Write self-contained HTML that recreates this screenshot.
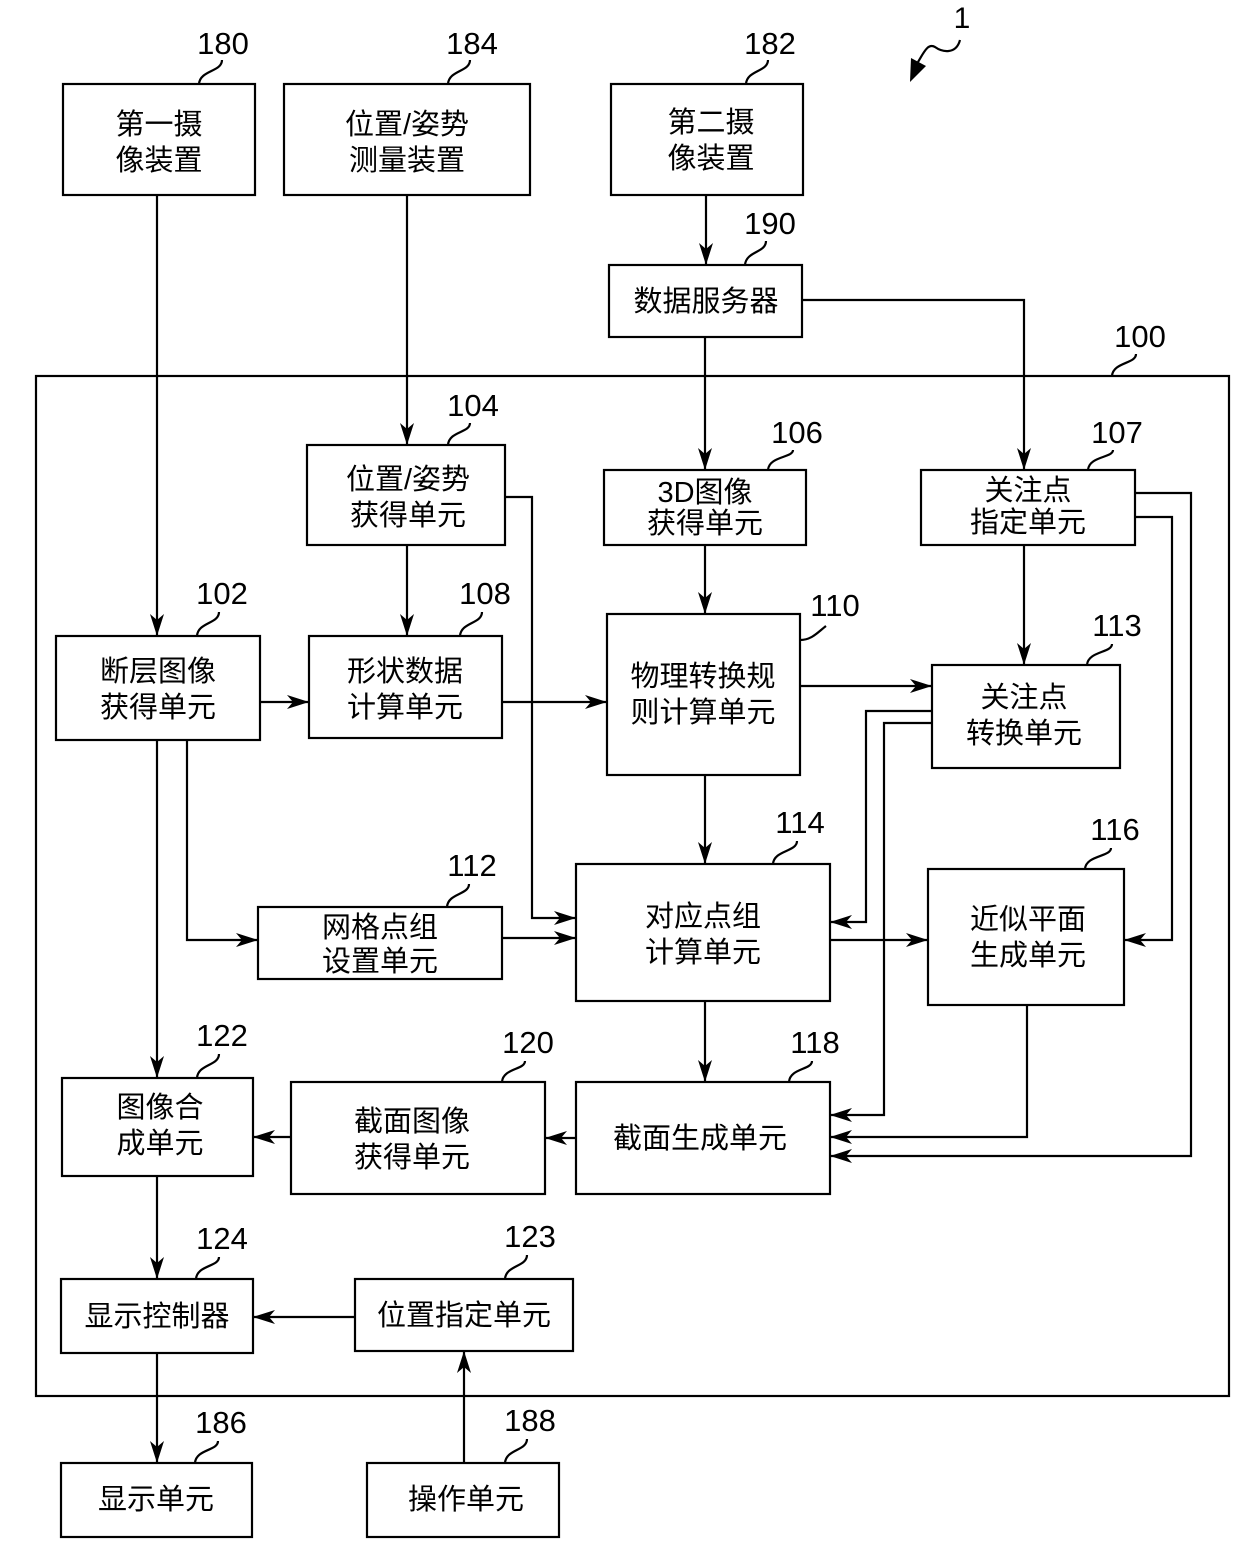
<!DOCTYPE html>
<html><head><meta charset="utf-8"><style>
html,body{margin:0;padding:0;background:#fff}
svg{display:block}
.b{fill:#fff;stroke:#000;stroke-width:2.2}
.l{fill:none;stroke:#000;stroke-width:2.2}
.t{font-family:"Liberation Sans","Noto Sans CJK SC",sans-serif;font-size:29px;fill:#000;text-anchor:middle}
.n{font-family:"Liberation Sans",sans-serif;font-size:31px;fill:#000;text-anchor:middle}
</style></head><body>
<svg width="1240" height="1546" viewBox="0 0 1240 1546" xmlns="http://www.w3.org/2000/svg">
<defs><marker id="a" markerWidth="24" markerHeight="14" refX="22" refY="7" orient="auto" markerUnits="userSpaceOnUse"><path d="M0,0 L22,7 L0,14 L6,7 Z" fill="#000"/></marker></defs>

<rect class="b" x="36" y="376" width="1193" height="1020"/>

<!-- boxes -->
<rect class="b" x="63" y="84" width="192" height="111"/>
<text class="t" x="159" y="134">第一摄</text><text class="t" x="159" y="170">像装置</text>
<rect class="b" x="284" y="84" width="246" height="111"/>
<text class="t" x="407" y="134">位置/姿势</text><text class="t" x="407" y="170">测量装置</text>
<rect class="b" x="611" y="84" width="192" height="111"/>
<text class="t" x="711" y="132">第二摄</text><text class="t" x="711" y="168">像装置</text>
<rect class="b" x="609" y="265" width="193" height="72"/>
<text class="t" x="706" y="311">数据服务器</text>

<rect class="b" x="307" y="445" width="198" height="100"/>
<text class="t" x="408" y="489">位置/姿势</text><text class="t" x="408" y="525">获得单元</text>
<rect class="b" x="604" y="470" width="202" height="75"/>
<text class="t" x="705" y="502">3D图像</text><text class="t" x="705" y="533">获得单元</text>
<rect class="b" x="921" y="470" width="214" height="75"/>
<text class="t" x="1028" y="500">关注点</text><text class="t" x="1028" y="532">指定单元</text>

<rect class="b" x="56" y="636" width="204" height="104"/>
<text class="t" x="158" y="681">断层图像</text><text class="t" x="158" y="717">获得单元</text>
<rect class="b" x="309" y="636" width="193" height="102"/>
<text class="t" x="405" y="681">形状数据</text><text class="t" x="405" y="717">计算单元</text>
<rect class="b" x="607" y="614" width="193" height="161"/>
<text class="t" x="703" y="686">物理转换规</text><text class="t" x="703" y="722">则计算单元</text>
<rect class="b" x="932" y="665" width="188" height="103"/>
<text class="t" x="1024" y="707">关注点</text><text class="t" x="1024" y="743">转换单元</text>

<rect class="b" x="258" y="907" width="244" height="72"/>
<text class="t" x="380" y="937">网格点组</text><text class="t" x="380" y="971">设置单元</text>
<rect class="b" x="576" y="864" width="254" height="137"/>
<text class="t" x="703" y="926">对应点组</text><text class="t" x="703" y="962">计算单元</text>
<rect class="b" x="928" y="869" width="196" height="136"/>
<text class="t" x="1028" y="929">近似平面</text><text class="t" x="1028" y="965">生成单元</text>

<rect class="b" x="62" y="1078" width="191" height="98"/>
<text class="t" x="160" y="1117">图像合</text><text class="t" x="160" y="1153">成单元</text>
<rect class="b" x="291" y="1082" width="254" height="112"/>
<text class="t" x="412" y="1131">截面图像</text><text class="t" x="412" y="1167">获得单元</text>
<rect class="b" x="576" y="1082" width="254" height="112"/>
<text class="t" x="700" y="1148">截面生成单元</text>

<rect class="b" x="61" y="1279" width="192" height="74"/>
<text class="t" x="157" y="1326">显示控制器</text>
<rect class="b" x="355" y="1279" width="218" height="72"/>
<text class="t" x="464" y="1325">位置指定单元</text>
<rect class="b" x="61" y="1463" width="191" height="74"/>
<text class="t" x="156" y="1509">显示单元</text>
<rect class="b" x="367" y="1463" width="192" height="74"/>
<text class="t" x="466" y="1509">操作单元</text>

<!-- connectors -->
<g class="l" marker-end="url(#a)">
<path d="M157,195 V636"/>
<path d="M407,195 V445"/>
<path d="M706,195 V265"/>
<path d="M705,337 V470"/>
<path d="M802,300 H1024 V470"/>
<path d="M407,545 V636"/>
<path d="M505,497 H532 V918 H576"/>
<path d="M705,545 V614"/>
<path d="M260,702 H309"/>
<path d="M502,702 H607"/>
<path d="M800,686 H932"/>
<path d="M1024,545 V665"/>
<path d="M157,740 V1078"/>
<path d="M187,740 V940 H258"/>
<path d="M502,938 H576"/>
<path d="M705,775 V864"/>
<path d="M830,940 H928"/>
<path d="M705,1001 V1082"/>
<path d="M932,711 H866 V922 H830"/>
<path d="M932,723 H884 V1115 H830"/>
<path d="M1027,1005 V1137 H830"/>
<path d="M1135,493 H1191 V1156 H830"/>
<path d="M1135,517 H1172 V940 H1124"/>
<path d="M576,1138 H545"/>
<path d="M291,1137 H253"/>
<path d="M157,1176 V1279"/>
<path d="M355,1317 H253"/>
<path d="M157,1353 V1463"/>
<path d="M464,1463 V1351"/>
</g>

<!-- labels -->
<g>
<text class="n" x="223" y="54">180</text><path class="l" d="M199,84 C200,70 222,72 222,60"/>
<text class="n" x="472" y="54">184</text><path class="l" d="M448,84 C449,70 470,72 470,60"/>
<text class="n" x="770" y="54">182</text><path class="l" d="M746,84 C747,70 768,72 768,60"/>
<text class="n" x="770" y="234">190</text><path class="l" d="M745,265 C746,251 766,253 766,241"/>
<text class="n" x="1140" y="347">100</text><path class="l" d="M1112,376 C1113,362 1136,364 1136,354"/>
<text class="n" x="473" y="416">104</text><path class="l" d="M448,445 C449,431 470,433 470,423"/>
<text class="n" x="797" y="443">106</text><path class="l" d="M768,470 C769,456 793,458 793,450"/>
<text class="n" x="1117" y="443">107</text><path class="l" d="M1088,470 C1089,456 1113,458 1113,450"/>
<text class="n" x="222" y="604">102</text><path class="l" d="M197,636 C198,622 219,624 219,612"/>
<text class="n" x="485" y="604">108</text><path class="l" d="M460,636 C461,622 482,624 482,612"/>
<text class="n" x="835" y="616">110</text><path class="l" d="M800,640 C812,640 818,632 826,626"/>
<text class="n" x="1117" y="636">113</text><path class="l" d="M1087,665 C1088,651 1112,653 1112,644"/>
<text class="n" x="472" y="876">112</text><path class="l" d="M447,907 C448,893 469,895 469,884"/>
<text class="n" x="800" y="833">114</text><path class="l" d="M773,864 C774,850 797,852 797,841"/>
<text class="n" x="1115" y="840">116</text><path class="l" d="M1085,869 C1086,855 1111,857 1111,848"/>
<text class="n" x="222" y="1046">122</text><path class="l" d="M197,1078 C198,1064 219,1066 219,1054"/>
<text class="n" x="528" y="1053">120</text><path class="l" d="M502,1082 C503,1068 525,1070 525,1061"/>
<text class="n" x="815" y="1053">118</text><path class="l" d="M789,1082 C790,1068 812,1070 812,1061"/>
<text class="n" x="222" y="1249">124</text><path class="l" d="M196,1279 C197,1265 219,1267 219,1257"/>
<text class="n" x="530" y="1247">123</text><path class="l" d="M505,1279 C506,1265 527,1267 527,1255"/>
<text class="n" x="221" y="1433">186</text><path class="l" d="M195,1463 C196,1449 218,1451 218,1441"/>
<text class="n" x="530" y="1431">188</text><path class="l" d="M505,1463 C506,1449 527,1451 527,1439"/>
<text class="n" x="962" y="28" style="font-size:30px">1</text>
<path class="l" d="M960,40 C956,55 942,52 935,47 C928,43 924,52 918,62"/>
<path d="M910,82 L911,58 L926,66 Z" fill="#000"/>
</g>
</svg>
</body></html>
